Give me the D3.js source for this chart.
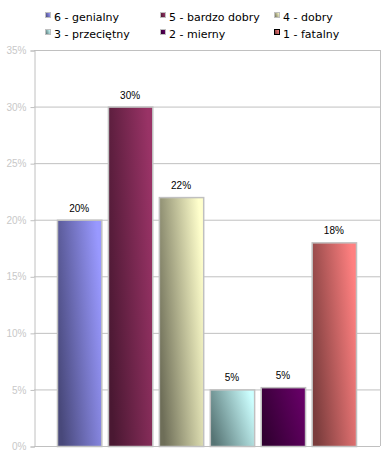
<!DOCTYPE html>
<html>
<head>
<meta charset="utf-8">
<script src="https://cdn.jsdelivr.net/npm/d3@7"></script>
<style>
  body { margin: 0; background: #fff; }
  svg { display: block; font-family: "DejaVu Sans", Verdana, sans-serif; }
</style>
</head>
<body>
<script>
let categories = ["6 - genialny", "5 - bardzo dobry", "4 - dobry", "3 - przeciętny", "2 - mierny", "1 - fatalny"];
let values = [20, 30, 22, 5, 5.2, 18];
let valueLabels = ["20%", "30%", "22%", "5%", "5%", "18%"];
let tickValues = [0, 5, 10, 15, 20, 25, 30, 35];
let lightColors = ["#9999ff", "#993366", "#ffffcc", "#ccffff", "#660066", "#ff8080"];
let darkColors = ["#48487a", "#4a1832", "#6e6e58", "#567474", "#300030", "#7a3c3c"];

let w = 391, h = 451;
let plotLeft = 34, plotRight = 380, plotTop = 50, plotBottom = 446;

let svg = d3.select('body').append('svg')
  .attr('width', w)
  .attr('height', h);

let defs = svg.append('defs');
categories.forEach((c, i) => {
  let g = defs.append('linearGradient')
    .attr('id', 'grad' + i)
    .attr('x1', '0%').attr('y1', '70%')
    .attr('x2', '100%').attr('y2', '30%');
  g.append('stop').attr('offset', '0%').attr('stop-color', darkColors[i]);
  g.append('stop').attr('offset', '100%').attr('stop-color', lightColors[i]);
});

let xScale = d3.scaleBand()
  .domain(categories)
  .range([57, 356])
  .paddingInner(0.13)
  .paddingOuter(0);

let yScale = d3.scaleLinear()
  .domain([0, 35])
  .range([plotBottom, plotTop]);

// gridlines
svg.append('g')
  .selectAll('line')
  .data(tickValues)
  .enter()
  .append('line')
  .attr('x1', plotLeft).attr('x2', plotRight)
  .attr('y1', d => yScale(d) + 0.5).attr('y2', d => yScale(d) + 0.5)
  .attr('stroke', '#c0c0c0');

// right border
svg.append('line')
  .attr('x1', plotRight + 0.5).attr('x2', plotRight + 0.5)
  .attr('y1', plotTop).attr('y2', plotBottom)
  .attr('stroke', '#c0c0c0');

// y axis
let yAxis = d3.axisLeft(yScale)
  .tickValues(tickValues)
  .tickSize(4)
  .tickPadding(4)
  .tickFormat(d => d + '%');

let yg = svg.append('g')
  .attr('transform', 'translate(' + (plotLeft + 0.5) + ',0.5)')
  .call(yAxis);
yg.select('.domain').attr('stroke', '#c0c0c0');
yg.selectAll('.tick line').attr('stroke', '#c0c0c0');
yg.selectAll('.tick text')
  .attr('fill', '#c8c8c8')
  .style('font-size', '10px')
  .style('font-family', '"Liberation Sans", Arial, sans-serif');

// bars
svg.selectAll('rect.bar')
  .data(values)
  .enter()
  .append('rect')
  .attr('class', 'bar')
  .attr('x', (d, i) => xScale(categories[i]) + 0.5)
  .attr('y', d => yScale(d) + 0.5)
  .attr('width', xScale.bandwidth())
  .attr('height', d => plotBottom - yScale(d))
  .attr('fill', (d, i) => 'url(#grad' + i + ')')
  .attr('stroke', '#c0c0c0')
  .attr('stroke-width', 1.5);

// value labels
svg.selectAll('text.val')
  .data(values)
  .enter()
  .append('text')
  .attr('class', 'val')
  .attr('x', (d, i) => xScale(categories[i]) + xScale.bandwidth() / 2)
  .attr('y', d => yScale(d) - 8)
  .attr('text-anchor', 'middle')
  .style('font-size', '10px')
  .style('font-family', '"Liberation Sans", Arial, sans-serif')
  .text((d, i) => valueLabels[i]);

// legend
let legend = svg.append('g');
let legendX = [46, 161, 275];
let legendY = [17, 34];
categories.forEach((c, i) => {
  let lx = legendX[i % 3], ly = legendY[Math.floor(i / 3)];
  legend.append('rect')
    .attr('x', lx - 0.5).attr('y', ly - 4.5)
    .attr('width', 5).attr('height', 5)
    .attr('fill', 'url(#grad' + i + ')')
    .attr('stroke', i === 5 ? '#000' : '#c0c0c0')
    .attr('stroke-width', 1);
  legend.append('text')
    .attr('x', lx + 8).attr('y', ly + 4)
    .style('font-size', '11px')
    .text(c);
});
</script>
</body>
</html>
